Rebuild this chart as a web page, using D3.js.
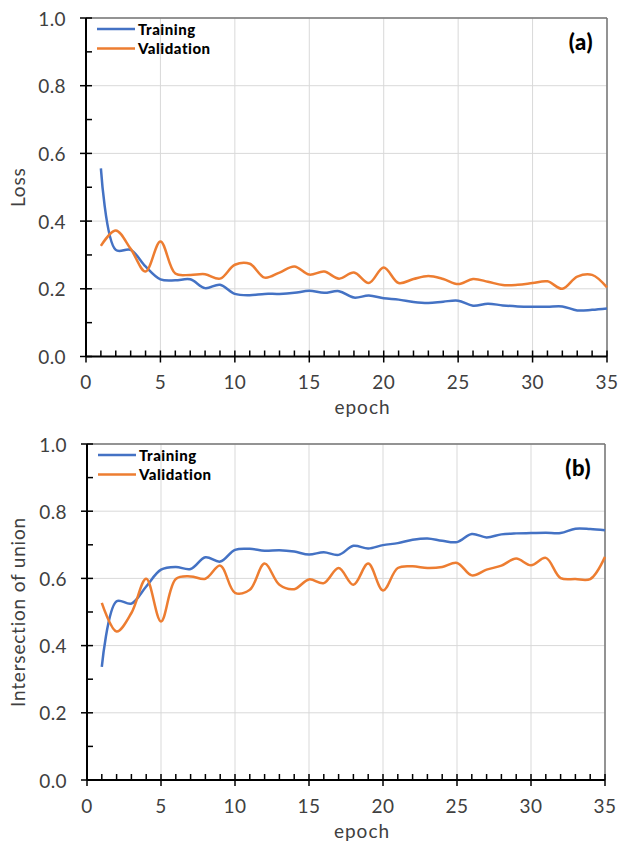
<!DOCTYPE html>
<html><head><meta charset="utf-8">
<script src="https://cdn.jsdelivr.net/npm/d3@7"></script>
<style>html,body{margin:0;padding:0;background:#fff;}svg{display:block;font-family:Lato,"Open Sans",sans-serif;}</style>
</head><body>
<svg id="c" width="621" height="842"></svg>
<script>
const epochs = d3.range(1, 36);
const lossTraining = [0.556,0.315,0.315,0.266,0.228,0.225,0.228,0.202,0.212,0.185,0.181,0.185,0.185,0.188,0.194,0.188,0.193,0.174,0.180,0.172,0.168,0.161,0.158,0.162,0.165,0.150,0.156,0.151,0.148,0.147,0.147,0.148,0.136,0.138,0.142];
const lossValidation = [0.327,0.372,0.318,0.251,0.340,0.245,0.241,0.243,0.230,0.271,0.274,0.233,0.248,0.266,0.242,0.251,0.230,0.248,0.217,0.263,0.217,0.229,0.238,0.229,0.214,0.229,0.221,0.211,0.212,0.217,0.222,0.200,0.236,0.241,0.204];
const iouTraining = [0.337,0.532,0.525,0.576,0.626,0.634,0.628,0.663,0.650,0.685,0.688,0.682,0.684,0.680,0.671,0.678,0.670,0.697,0.689,0.699,0.705,0.715,0.719,0.712,0.708,0.732,0.722,0.731,0.734,0.735,0.736,0.735,0.748,0.747,0.743];
const iouValidation = [0.527,0.442,0.497,0.599,0.472,0.598,0.606,0.599,0.638,0.557,0.566,0.644,0.581,0.568,0.597,0.586,0.631,0.581,0.644,0.564,0.631,0.636,0.631,0.634,0.646,0.609,0.626,0.638,0.659,0.639,0.661,0.601,0.598,0.598,0.664];
const xTicks = [0,5,10,15,20,25,30,35];
const yTicks = [0,0.2,0.4,0.6,0.8,1.0];
const seriesNames = ["Training","Validation"];
const colors = ["#4472C4","#ED7D31"];

const svg = d3.select("#c");

function panel(cfg){
  const x = d3.scaleLinear().domain([0,35]).range([cfg.left, cfg.right]);
  const y = d3.scaleLinear().domain([0,1]).range([cfg.bottom, cfg.top]);
  const g = svg.append("g");
  g.selectAll(".gx").data(xTicks.slice(1)).join("line")
    .attr("x1",d=>x(d)).attr("x2",d=>x(d)).attr("y1",cfg.top).attr("y2",cfg.bottom)
    .attr("stroke","#d9d9d9").attr("stroke-width",1);
  g.selectAll(".gy").data(yTicks.slice(1)).join("line")
    .attr("y1",d=>y(d)).attr("y2",d=>y(d)).attr("x1",cfg.left).attr("x2",cfg.right)
    .attr("stroke","#d9d9d9").attr("stroke-width",1);
  g.append("line").attr("x1",cfg.left).attr("x2",cfg.right).attr("y1",cfg.top).attr("y2",cfg.top).attr("stroke","#767676").attr("stroke-width",1.5);
  g.append("line").attr("x1",cfg.right).attr("x2",cfg.right).attr("y1",cfg.top).attr("y2",cfg.bottom).attr("stroke","#767676").attr("stroke-width",1.5);
  const line = d3.line().x((d,i)=>x(epochs[i])).y(d=>y(d)).curve(d3.curveCatmullRom.alpha(0.5));
  [cfg.train, cfg.val].forEach((s,i)=>{
    g.append("path").attr("d",line(s)).attr("fill","none").attr("stroke",colors[i]).attr("stroke-width",2.5).attr("stroke-linejoin","round");
  });
  g.append("line").attr("x1",cfg.left).attr("x2",cfg.left).attr("y1",cfg.top).attr("y2",cfg.bottom).attr("stroke","#000").attr("stroke-width",2);
  const yMinor = d3.range(1,10,2).map(d=>d/10);
  g.selectAll(".ymin").data(yMinor).join("line")
    .attr("x1",cfg.left).attr("x2",cfg.left+6).attr("y1",d=>y(d)).attr("y2",d=>y(d)).attr("stroke","#000").attr("stroke-width",1.5);
  g.selectAll(".ymaj").data(yTicks).join("line")
    .attr("x1",cfg.left-6).attr("x2",cfg.left+6).attr("y1",d=>y(d)).attr("y2",d=>y(d)).attr("stroke","#000").attr("stroke-width",1.5);
  g.selectAll(".ylab").data(yTicks).join("text")
    .attr("x",cfg.left-20).attr("y",d=>y(d)+1).attr("dy","0.35em").attr("text-anchor","end")
    .attr("font-size",19).attr("letter-spacing","0.4px").attr("fill","#404040").text(d=>d.toFixed(1));
  g.append("line").attr("x1",cfg.left).attr("x2",cfg.right).attr("y1",cfg.bottom).attr("y2",cfg.bottom).attr("stroke","#000").attr("stroke-width",2);
  const xMinor = d3.range(1,35).filter(d=>d%5!==0);
  g.selectAll(".xmin").data(xMinor).join("line")
    .attr("x1",d=>x(d)).attr("x2",d=>x(d)).attr("y1",cfg.bottom).attr("y2",cfg.bottom-6).attr("stroke","#000").attr("stroke-width",1.5);
  g.selectAll(".xmaj").data(xTicks).join("line")
    .attr("x1",d=>x(d)).attr("x2",d=>x(d)).attr("y1",cfg.bottom-6).attr("y2",cfg.bottom+6).attr("stroke","#000").attr("stroke-width",1.5);
  g.selectAll(".xlab").data(xTicks).join("text")
    .attr("x",d=>x(d)).attr("y",cfg.bottom+26).attr("dy","0.35em").attr("text-anchor","middle")
    .attr("font-size",19).attr("letter-spacing","0.4px").attr("fill","#404040").text(d=>d);
  g.append("text").attr("x",(cfg.left+cfg.right)/2+16).attr("y",cfg.bottom+51).attr("dy","0.35em")
    .attr("text-anchor","middle").attr("font-size",19).attr("letter-spacing","1px").attr("fill","#404040").text("epoch");
  g.append("text").attr("transform",`translate(18,${(cfg.top+cfg.bottom)/2}) rotate(-90)`).attr("dy","0.35em")
    .attr("text-anchor","middle").attr("font-size",19).attr("letter-spacing","0.8px").attr("fill","#404040").text(cfg.ylabel);
  seriesNames.forEach((n,i)=>{
    const ly = cfg.top+11+i*19.5;
    g.append("line").attr("x1",cfg.left+11).attr("x2",cfg.left+49).attr("y1",ly).attr("y2",ly).attr("stroke",colors[i]).attr("stroke-width",2.5);
    g.append("text").attr("x",cfg.left+52).attr("y",ly+0.5).attr("dy","0.35em").attr("font-size",15).attr("letter-spacing","0.5px").attr("font-weight","900").attr("fill","#000").text(n);
  });
  g.append("text").attr("x",cfg.right-14).attr("y",cfg.top+24).attr("dy","0.35em").attr("text-anchor","end")
    .attr("font-size",22).attr("letter-spacing","0.5px").attr("font-weight","900").attr("fill","#000").text(cfg.tag);
}

panel({left:86,right:607,top:18,bottom:356.5,train:lossTraining,val:lossValidation,ylabel:"Loss",tag:"(a)"});
panel({left:87,right:605,top:444,bottom:780,train:iouTraining,val:iouValidation,ylabel:"Intersection of union",tag:"(b)"});
</script>
</body></html>
